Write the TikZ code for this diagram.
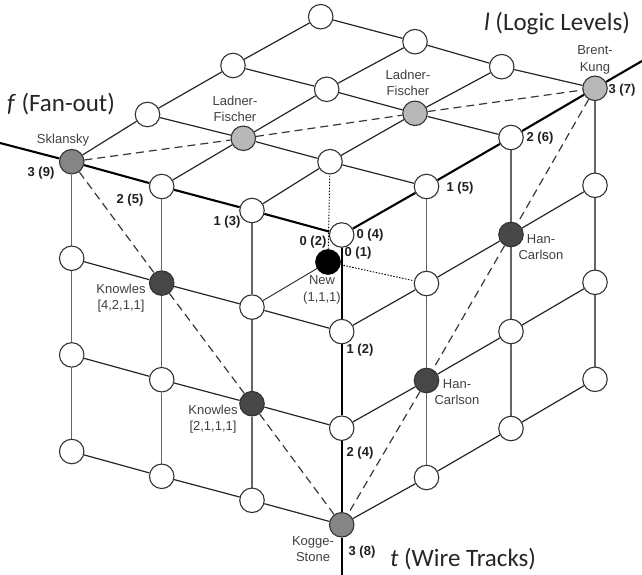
\documentclass[tikz,border=0pt]{standalone}
\usepackage{fontspec}
\setmainfont{Liberation Sans}
\newfontfamily\axisfont{Carlito}
\usetikzlibrary{backgrounds}
\begin{document}
\begin{tikzpicture}[x=1pt,y=-1pt,
  gnode/.style={circle,draw=black!80,line width=1.1pt,minimum size=24.5pt,inner sep=0pt,fill=white},
  s300/.style={fill=black!48},
  s003/.style={fill=black!48},
  s210/.style={fill=black!28},
  s120/.style={fill=black!28},
  s030/.style={fill=black!28},
  s201/.style={fill=black!72},
  s102/.style={fill=black!72},
  s021/.style={fill=black!72},
  s012/.style={fill=black!72},
  newnode/.style={gnode,fill=black,draw=black},
  gridl/.style={line width=1.2pt,draw=black!85},
  vgrid/.style={line width=1.2pt,draw=black!60},
  axisline/.style={line width=2.1pt,draw=black},
  diag/.style={line width=1.2pt,draw=black!78,dash pattern=on 8pt off 5pt},
  dotl/.style={line width=0.9pt,draw=black,dash pattern=on 1.5pt off 1.5pt},
  thinl/.style={line width=0.9pt,draw=black!85},
  namelbl/.style={font=\fontsize{13}{16.5}\selectfont,text=black!75,align=center,inner sep=0pt},
  numlbl/.style={font=\fontsize{13}{15}\selectfont\bfseries,text=black!88,inner sep=0pt},
  axl/.style={font=\fontsize{25}{28}\axisfont,text=black!85,inner sep=0pt}
]
\useasboundingbox (0,0) rectangle (642,575);
% top face (fan-out i, logic level j)
\foreach \i/\j/\x/\y in {0/0/341.7/235, 1/0/252/210.5, 2/0/161.7/186.5, 3/0/71.7/161.7,
  0/1/426.5/186.5, 1/1/330/161.7, 2/1/243.3/138.3, 3/1/147.5/114.5,
  0/2/511/137.5, 1/2/415/113.3, 2/2/326.7/89.3, 3/2/233/65.5,
  0/3/595/88.3, 1/3/501.7/66.7, 2/3/415/41.7, 3/3/320.7/16.7}{
  \node[gnode,s\i\j0/.try] (n\i\j0) at (\x,\y) {};}
% left face (fan-out i, wire tracks k)
\foreach \i/\x/\y in {0/341.7/235, 1/252/210.5, 2/161.7/186.5, 3/71.7/161.7}{
  \foreach \k in {1,2,3}{
    \node[gnode,s\i0\k/.try] (n\i0\k) at (\x,{\y+96.6*\k}) {};}}
% right face (logic level j, wire tracks k)
\foreach \j/\x/\y in {1/426.5/186.5, 2/511/137.5, 3/595/88.3}{
  \foreach \k in {1,2,3}{
    \node[gnode,s0\j\k/.try] (n0\j\k) at (\x,{\y+97*\k}) {};}}
\node[newnode] (new) at (328,262) {};
\coordinate (fend) at (0,143);
\coordinate (lend) at (642,61);
\coordinate (tend) at (341.7,575);

\begin{scope}[on background layer]
% top face
\foreach \i in {1,2,3}{\draw[gridl] (n\i00)--(n\i10)--(n\i20)--(n\i30);}
\foreach \j in {1,2,3}{\draw[gridl] (n0\j0)--(n1\j0)--(n2\j0)--(n3\j0);}
% left face
\foreach \i in {1,2,3}{\draw[vgrid] (n\i00)--(n\i01)--(n\i02)--(n\i03);}
\foreach \k in {1,2,3}{\draw[gridl] (n00\k)--(n10\k)--(n20\k)--(n30\k);}
% right face
\foreach \j in {1,2,3}{\draw[vgrid] (n0\j0)--(n0\j1)--(n0\j2)--(n0\j3);}
\foreach \k in {1,2,3}{\draw[gridl] (n00\k)--(n01\k)--(n02\k)--(n03\k);}
% axes
\draw[axisline] (n000)--(n100)--(n200)--(n300)--(fend);
\draw[axisline] (n000)--(n010)--(n020)--(n030)--(lend);
\draw[axisline] (n000)--(n001)--(n002)--(n003)--(tend);
% diagonals
\draw[diag] (n300)--(n210)--(n120)--(n030);
\draw[diag] (n300)--(n201)--(n102)--(n003);
\draw[diag] (n030)--(n021)--(n012)--(n003);
% new node links
\draw[dotl] (new)--(n110);
\draw[thinl] (new)--(n101);
\draw[dotl] (new)--(n011);
\end{scope}

% names
\node[namelbl] (lSk) at (63,140) {Sklansky};
\node[namelbl] (lLF1) at (235,109) {Ladner-\\Fischer};
\node[namelbl] (lLF2) at (408,83) {Ladner-\\Fischer};
\node[namelbl] (lBK) at (595,60) {Brent-\\Kung};
\node[namelbl] (lKn1) at (121,298) {Knowles\\ {[4,2,1,1]}};
\node[namelbl] (lKn2) at (213,419) {Knowles\\ {[2,1,1,1]}};
\node[namelbl] (lHC1) at (541,247) {Han-\\Carlson};
\node[namelbl] (lHC2) at (457,392) {Han-\\Carlson};
\node[namelbl] (lKS) at (313,549) {Kogge-\\Stone};
\node[namelbl] (lNew) at (322,290) {New\\(1,1,1)};
% numbers
\node[numlbl] (f3) at (41,173) {3 (9)};
\node[numlbl] (f2) at (130,200) {2 (5)};
\node[numlbl] (f1) at (227,222) {1 (3)};
\node[numlbl] (f0) at (313,242) {0 (2)};
\node[numlbl] (l0) at (370,235) {0 (4)};
\node[numlbl] (t0) at (358,253) {0 (1)};
\node[numlbl] (l1) at (460,188) {1 (5)};
\node[numlbl] (l2) at (540,138) {2 (6)};
\node[numlbl] (l3) at (622,90) {3 (7)};
\node[numlbl] (t1) at (360,350) {1 (2)};
\node[numlbl] (t2) at (360,453) {2 (4)};
\node[numlbl] (t3) at (362,552) {3 (8)};
% axis labels
\node[axl] (af) at (61,104) {\textit{f} (Fan-out)};
\node[axl] (al) at (557,24) {\textit{l} (Logic Levels)};
\node[axl] (at) at (463,559) {\textit{t} (Wire Tracks)};
\end{tikzpicture}
\end{document}
